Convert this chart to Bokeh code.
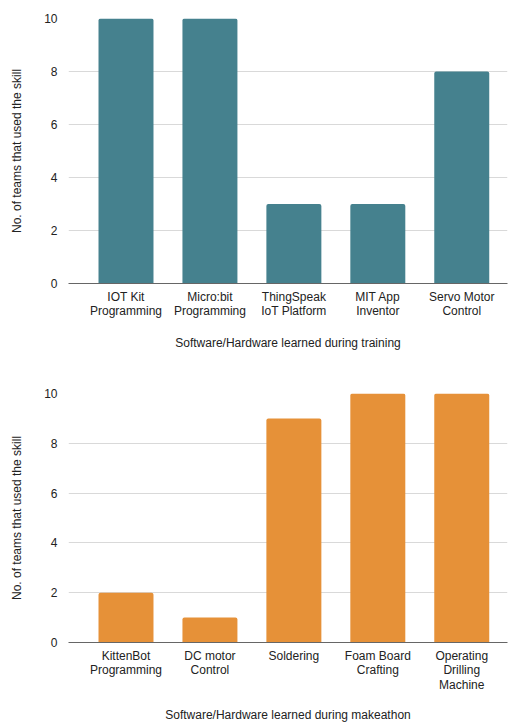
from bokeh.plotting import figure
from bokeh.layouts import column
from bokeh.models import Range1d, FixedTicker
from bokeh.embed import file_html
from bokeh.resources import INLINE

training_skills = ["IOT Kit\nProgramming", "Micro:bit\nProgramming", "ThingSpeak\nIoT Platform",
                   "MIT App\nInventor", "Servo Motor\nControl"]
training_teams = [10, 10, 3, 3, 8]

makeathon_skills = ["KittenBot\nProgramming", "DC motor\nControl", "Soldering",
                    "Foam Board\nCrafting", "Operating\nDrilling\nMachine"]
makeathon_teams = [2, 1, 9, 10, 10]

y_ticks = [0, 2, 4, 6, 8, 10]

FONT = "Liberation Sans"


def make_chart(labels, values, color, xtitle, height, top, bottom, title_standoff):
    xs = list(range(len(labels)))
    p = figure(width=508, height=height, output_backend="svg", toolbar_location=None,
               x_range=Range1d(-0.685, len(labels) - 1 + 0.545), y_range=Range1d(0, 10),
               min_border_left=68, min_border_right=1, min_border_top=top, min_border_bottom=bottom)
    p.outline_line_color = None
    p.background_fill_color = "white"
    p.border_fill_color = "white"
    p.vbar(x=xs, top=values, width=0.655, bottom=0, fill_color=color, line_color=None,
           border_radius=(2, 2, 0, 0))
    # y axis
    yax = p.yaxis[0]
    yax.ticker = FixedTicker(ticks=y_ticks)
    yax.axis_line_color = None
    yax.major_tick_line_color = None
    yax.minor_tick_line_color = None
    yax.major_label_text_font = FONT
    yax.major_label_text_font_size = "12px"
    yax.major_label_text_color = "#222222"
    yax.major_label_standoff = 5
    yax.axis_label = "No. of teams that used the skill"
    yax.axis_label_text_font = FONT
    yax.axis_label_text_font_size = "12px"
    yax.axis_label_text_font_style = "normal"
    yax.axis_label_text_color = "#222222"
    yax.axis_label_standoff = 17
    # x axis
    xax = p.xaxis[0]
    xax.ticker = FixedTicker(ticks=xs)
    xax.major_label_overrides = {i: lab for i, lab in zip(xs, labels)}
    xax.axis_line_color = "#666666"
    xax.axis_line_width = 1
    xax.major_tick_line_color = None
    xax.minor_tick_line_color = None
    xax.major_label_text_font = FONT
    xax.major_label_text_font_size = "12px"
    xax.major_label_text_color = "#222222"
    xax.major_label_text_line_height = 1.05
    xax.major_label_standoff = 0
    xax.axis_label = xtitle
    xax.axis_label_text_font = FONT
    xax.axis_label_text_font_size = "12px"
    xax.axis_label_text_font_style = "normal"
    xax.axis_label_text_color = "#222222"
    xax.axis_label_standoff = title_standoff
    p.xgrid.grid_line_color = None
    p.ygrid.grid_line_color = "#d9d9d9"
    p.ygrid.grid_line_width = 1
    return p


p1 = make_chart(training_skills, training_teams, "#45818e",
                "Software/Hardware learned during training", 360, 18, 77, 15)
p2 = make_chart(makeathon_skills, makeathon_teams, "#e69138",
                "Software/Hardware learned during makeathon", 364, 33, 81, 13)

p = column(p1, p2, spacing=0)
open("out.html", "w").write(file_html(p, INLINE))
